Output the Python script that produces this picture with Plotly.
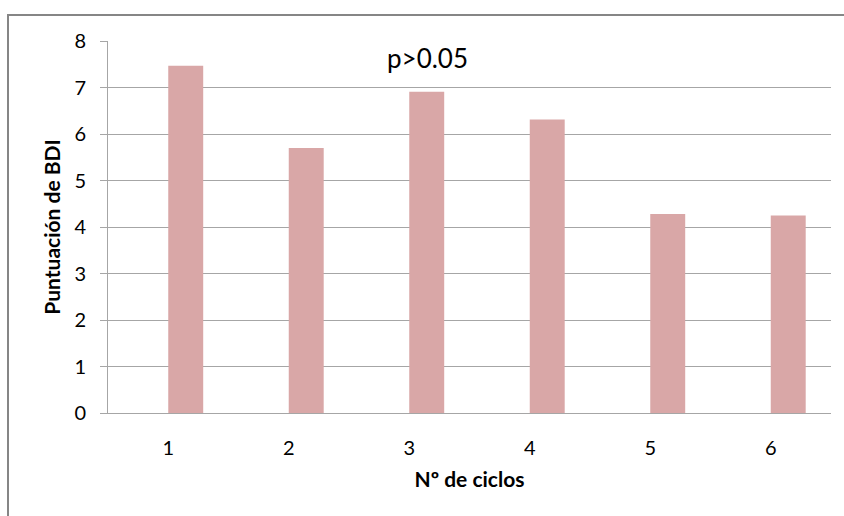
import plotly.graph_objects as go

categories = ["1", "2", "3", "4", "5", "6"]
bdi_scores = [7.47, 5.70, 6.91, 6.31, 4.28, 4.25]
y_ticks = [0, 1, 2, 3, 4, 5, 6, 7, 8]

FONT = "Lato, Carlito, Calibri, sans-serif"
GRID = "#A6A6A6"

fig = go.Figure()
fig.add_trace(go.Bar(
    x=categories, y=bdi_scores,
    marker=dict(color="#D9A7A7", line=dict(width=0)),
    width=0.29, offset=0,
    showlegend=False,
))

fig.update_layout(
    width=844, height=516,
    margin=dict(l=108, r=13, t=41, b=103),
    paper_bgcolor="white", plot_bgcolor="white",
    font=dict(family=FONT, color="#000000", size=20),
    xaxis=dict(
        type="category", showgrid=False, showline=True, linecolor=GRID, linewidth=1,
        ticks="", ticklabelstandoff=17, automargin=False,
        tickfont=dict(size=20),
        title=dict(text="<b>Nº de ciclos</b>", font=dict(size=21), standoff=14),
        range=[-0.5, 5.5],
    ),
    yaxis=dict(
        range=[0, 8], tickvals=y_ticks, showgrid=True, gridcolor=GRID, gridwidth=1,
        showline=True, linecolor=GRID, linewidth=1, automargin=False,
        ticks="outside", ticklen=7, tickcolor=GRID, ticklabelstandoff=10,
        tickfont=dict(size=20), zeroline=False,
        title=dict(text="<b>Puntuación de BDI</b>", font=dict(size=21), standoff=8),
    ),
    shapes=[
        dict(type="rect", xref="paper", yref="paper", layer="above",
             x0=(366 - 108) / 723, x1=(500 - 108) / 723, y0=0.95, y1=1.03,
             fillcolor="white", line=dict(width=0)),
        dict(type="rect", xref="paper", yref="paper", layer="above",
             x0=(8 - 108) / 723, x1=1.2, y0=-0.5, y1=(413 - 15) / 372,
             fillcolor="rgba(0,0,0,0)", line=dict(color="#868686", width=2)),
    ],
    annotations=[
        dict(text="p>0.05", xref="paper", yref="paper",
             x=(427 - 108) / 723, y=(413 - 58) / 372,
             xanchor="center", yanchor="middle", showarrow=False,
             font=dict(size=26, family=FONT)),
    ],
)

fig.write_html(
    "out.html",
    config={"displayModeBar": False},
    post_script="document.body.style.margin='0';document.body.style.overflow='hidden';",
)
